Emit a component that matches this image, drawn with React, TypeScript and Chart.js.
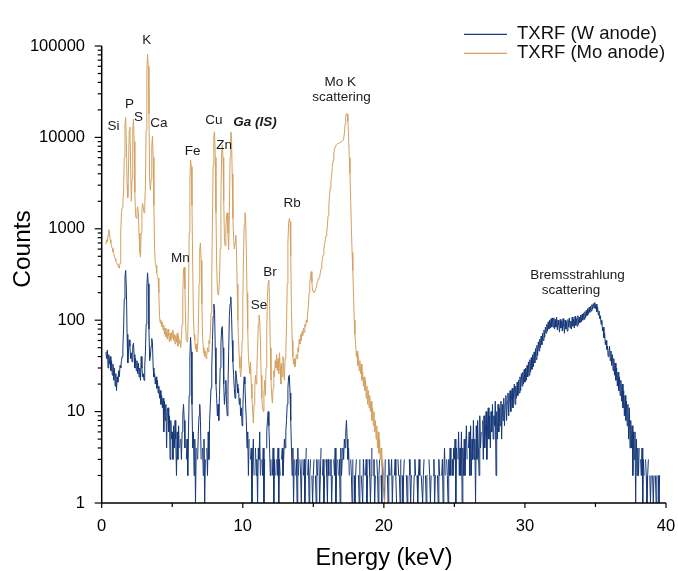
import React, { useEffect, useRef } from "react";
import { Chart, registerables } from "chart.js";

Chart.register(...registerables);

const FONT = "'Liberation Sans', Arial, Helvetica, sans-serif";

// Detector channel calibration (keV per channel)
const channelWidthKeV = 0.05;

// ---- TXRF (W anode) counts, one value per 0.05 keV channel ----
const wCounts00to05 = [
  null, null, null, null, null, null,
  45, 38, 47, 30, 42, 33, 40, 28, 36, 25,
  33, 22, 30, 19, 26, 17, 24, 21, 28, 24,
  32, 30, 36, 40, 50, 80, 170, 300, 350, 220,
  70, 34, 45, 61, 52, 38, 44, 35, 52, 56,
  42, 30, 38, 28, 36, 26, 34, 24, 30, 22,
  40, 30, 24, 26, 22, 32, 45, 90, 230, 330,
  250, 80, 36, 40, 52, 63, 55, 30, 24, 26,
  20, 24, 18, 22, 16, 19, 14, 17, 12, 15,
  11, 14, 6, 13, 8, 12, 4, 10, 11, 6,
  9, 3, 8, 5,
];
const wCounts05to10 = [
  6, 3, 7, 4, 8, 5, 2, 6, 3, 7,
  4, 0, 5, 3, 6, 9, 12, 8, 4, 0,
  3, 5, 2, 6, 15, 40, 65, 45, 12, 4,
  6, 2, 5, 1, 4, 0, 3, 6, 9, 12,
  8, 3, 0, 4, 2, 5, 1, 3, 0, 4,
  2, 6, 3, 8, 12, 18, 30, 60, 110, 150,
  130, 50, 20, 14, 9, 12, 8, 15, 30, 55,
  80, 85, 50, 20, 12, 16, 22, 12, 9, 18,
  45, 110, 150, 180, 120, 60, 35, 25, 18, 14,
  28, 24, 20, 16, 18, 12, 14, 9, 11, 7,
];
const wCounts10to15 = [
  10, 18, 24, 20, 12, 8, 4, 6, 2, 5,
  0, 3, 4, 1, 3, 5, 2, 0, 4, 2,
  3, 1, 4, 3, 6, 2, 0, 3, 2, 4,
  1, 3, 0, 4, 6, 8, 10, 7, 4, 2,
  3, 0, 2, 4, 1, 3, 2, 0, 3, 2,
  4, 1, 3, 2, 0, 3, 4, 2, 3, 5,
  4, 6, 8, 12, 18, 24, 25, 16, 8, 4,
  2, 4, 1, 3, 0, 2, 3, 1, 4, 2,
  0, 3, 2, 1, 3, 0, 2, 3, 1, 2,
  4, 0, 2, 3, 1, 2, 3, 0, 2, 1,
];
const wCounts15to20 = [
  2, 3, 0, 2, 1, 3, 2, 0, 3, 1,
  2, 4, 0, 2, 3, 1, 2, 0, 3, 2,
  1, 3, 2, 0, 2, 3, 1, 2, 0, 3,
  2, 4, 1, 2, 3, 0, 2, 3, 1, 4,
  2, 3, 4, 3, 5, 4, 6, 8, 5, 3,
  4, 2, 0, 3, 2, 1, 3, 0, 2, 1,
  2, 3, 0, 2, 2, 1, 3, 0, 2, 2,
  1, 3, 2, 0, 2, 3, 1, 2, 0, 3,
  2, 1, 2, 4, 0, 2, 3, 1, 2, 0,
  3, 2, 1, 2, 3, 0, 2, 1, 3, 2,
];
const wCounts20to25 = [
  2, 1, 3, 0, 2, 2, 1, 3, 2, 0,
  2, 3, 1, 2, 0, 2, 3, 2, 1, 0,
  3, 2, 2, 1, 3, 0, 2, 1, 2, 3,
  0, 2, 2, 1, 2, 0, 3, 2, 1, 2,
  2, 0, 1, 2, 3, 2, 0, 2, 1, 2,
  3, 2, 0, 2, 2, 1, 2, 3, 0, 2,
  1, 2, 2, 0, 3, 2, 1, 2, 2, 0,
  2, 3, 1, 2, 2, 0, 2, 1, 3, 2,
  2, 0, 2, 3, 1, 2, 4, 2, 0, 3,
  2, 1, 3, 2, 4, 2, 0, 3, 2, 4,
];
const wCounts25to30 = [
  3, 5, 1, 4, 0, 3, 6, 2, 4, 2,
  6, 1, 4, 2, 5, 2, 4, 7, 3, 0,
  4, 6, 2, 7, 2, 5, 3, 8, 3, 5,
  1, 7, 3, 8, 4, 2, 9, 4, 6, 0,
  8, 3, 9, 4, 6, 10, 3, 7, 11, 5,
  9, 4, 10, 6, 12, 5, 9, 7, 13, 2,
  10, 5, 12, 6, 11, 7, 13, 5, 12, 8,
  14, 7, 12, 15, 8, 13, 16, 9, 14, 17,
  10, 15, 18, 11, 16, 20, 12, 19, 14, 21,
  15, 22, 16, 24, 17, 26, 19, 27, 20, 29,
];
const wCounts30to35 = [
  21, 30, 22, 32, 24, 35, 25, 37, 27, 39,
  29, 42, 31, 45, 34, 49, 37, 53, 41, 58,
  46, 62, 50, 67, 54, 72, 60, 78, 65, 84,
  72, 90, 76, 96, 80, 100, 82, 104, 84, 106,
  84, 106, 80, 102, 84, 108, 78, 100, 88, 74,
  102, 82, 98, 76, 104, 86, 72, 100, 80, 96,
  76, 102, 84, 106, 82, 98, 80, 108, 86, 102,
  82, 110, 88, 104, 86, 112, 90, 108, 94, 114,
  96, 116, 100, 120, 102, 124, 106, 128, 112, 134,
  116, 138, 122, 142, 126, 148, 132, 152, 136, 156,
];
const wCounts35to40 = [
  134, 150, 124, 140, 114, 126, 104, 112, 90, 100,
  76, 84, 64, 72, 54, 60, 48, 52, 40, 44,
  52, 36, 46, 32, 42, 28, 38, 25, 34, 22,
  30, 19, 27, 17, 24, 15, 22, 13, 20, 11,
  17, 9, 15, 8, 13, 7, 12, 5, 11, 4,
  8, 4, 7, 2, 6, 3, 6, 1, 5, 2,
  4, 2, 4, 0, 3, 2, 4, 1, 3, 2,
  0, 3, 2, 1, 2, 3, 0, 2, 1, 2,
  0, 2, 1, 2, 0, 2, 1, 2, 0, 2,
  1, 2, 0, 2, 0, null, null, null, null, null,
];

// ---- TXRF (Mo anode) counts, one value per 0.05 keV channel ----
const moCounts00to05 = [
  null, null, null, null, null, null,
  680, 760, 720, 850, 980, 900, 760, 700, 640, 610,
  560, 540, 500, 470, 450, 430, 410, 400, 380, 370,
  420, 900, 1500, 1700, 1900, 2600, 6000, 14000, 16500, 9000,
  3000, 2200, 4500, 12000, 13000, 5000, 2000, 3500, 12000, 15800,
  9000, 2500, 1400, 1300, 1600, 1750, 1500, 900, 560, 490,
  900, 1600, 1900, 1700, 1500, 1800, 3000, 12000, 55000, 81500,
  60000, 18000, 3500, 2650, 3500, 8000, 10300, 6000, 1800, 600,
  420, 400, 330, 300, 290, 200, 110, 93, 100, 85,
  95, 78, 88, 70, 82, 66, 75, 62, 80, 68,
  58, 72, 60, 74,
];
const moCounts05to10 = [
  64, 78, 60, 70, 55, 68, 58, 72, 52, 66,
  56, 60, 50, 64, 90, 200, 360, 380, 220, 90,
  60, 58, 70, 150, 900, 3500, 5650, 4800, 1800, 400,
  110, 70, 60, 48, 55, 45, 52, 80, 250, 600,
  700, 450, 150, 65, 50, 44, 40, 46, 38, 42,
  50, 45, 60, 55, 70, 120, 300, 1200, 5000, 10500,
  11500, 6000, 1500, 400, 220, 190, 200, 280, 600, 2200,
  6500, 8300, 6000, 2000, 800, 650, 1000, 1400, 1500, 900,
  590, 1500, 6000, 11500, 10500, 4000, 1300, 800, 600, 700,
  850, 600, 250, 100, 60, 40, 30, 24, 30, 60,
];
const moCounts10to15 = [
  150, 500, 1100, 1500, 1300, 600, 200, 80, 40, 31,
  26, 35, 20, 14, 10, 7.5, 12, 18, 25, 20,
  30, 50, 90, 114, 100, 60, 25, 14, 11, 10,
  16, 22, 15, 30, 80, 180, 260, 275, 150, 50,
  22, 15, 12.4, 18, 28, 24, 36, 30, 42, 28,
  38, 26, 44, 32, 20, 34, 24, 40, 30, 22,
  38, 45, 80, 250, 700, 1150, 1300, 1200, 500, 130,
  60, 40, 33, 38, 31, 36, 42, 38, 50, 45,
  62, 55, 70, 60, 75, 68, 82, 74, 90, 84,
  100, 95, 120, 140, 200, 260, 300, 340, 260, 210,
];
const moCounts15to20 = [
  210, 200, 200, 215, 230, 250, 265, 280, 290, 300,
  330, 370, 420, 470, 520, 600, 680, 760, 840, 900,
  1100, 1400, 1800, 2300, 2800, 3300, 3900, 4700, 5600, 6600,
  7400, 7900, 8200, 8400, 8500, 8600, 8650, 8700, 8800, 8900,
  9000, 9200, 9300, 9600, 11000, 14000, 17000, 18300, 18000, 15000,
  10000, 6000, 4000, 2000, 1000, 550, 350, 180, 100, 70,
  55, 40, 46, 32, 40, 28, 36, 26, 33, 22,
  27, 19, 24, 17, 22, 14, 19, 12, 17, 11,
  15, 10, 13, 8, 11, 7, 10, 6, 8, 5,
  7, 4, 6, 3.5, 5, 3, 4, 2.5, 3, 2,
  1.5, 1, 0,
];

const wSegments = [
  { startKeV: 0, counts: wCounts00to05 },
  { startKeV: 5, counts: wCounts05to10 },
  { startKeV: 10, counts: wCounts10to15 },
  { startKeV: 15, counts: wCounts15to20 },
  { startKeV: 20, counts: wCounts20to25 },
  { startKeV: 25, counts: wCounts25to30 },
  { startKeV: 30, counts: wCounts30to35 },
  { startKeV: 35, counts: wCounts35to40 },
];
const moSegments = [
  { startKeV: 0, counts: moCounts00to05 },
  { startKeV: 5, counts: moCounts05to10 },
  { startKeV: 10, counts: moCounts10to15 },
  { startKeV: 15, counts: moCounts15to20 },
];

const seriesLabels = ["TXRF (W anode)", "TXRF (Mo anode)"];
const seriesColors = ["#173878", "#d4a160"];

const xMajorTicks = [0, 10, 20, 30, 40];
const xMinorTicks = [5, 15, 25, 35];
const yMajorTicks = [1, 10, 100, 1000, 10000, 100000];
const yMinorMultipliers = [2, 3, 4, 5, 6, 7, 8, 9];

// peak labels, anchored in data units (keV, counts)
const peakLabels = [
  { text: "K", e: 3.19, c: 116000 },
  { text: "P", e: 1.97, c: 23200 },
  { text: "Si", e: 0.84, c: 13100 },
  { text: "S", e: 2.61, c: 16400 },
  { text: "Ca", e: 4.06, c: 14400 },
  { text: "Fe", e: 6.44, c: 7100 },
  { text: "Cu", e: 7.96, c: 15200 },
  { text: "Zn", e: 8.67, c: 8260 },
  { text: "Ga (IS)", e: 10.86, c: 14500, bold: true },
  { text: "Mn", e: 5.57, c: 480 },
  { text: "Rb", e: 13.49, c: 1880 },
  { text: "Br", e: 11.93, c: 331 },
  { text: "Se", e: 11.15, c: 147 },
  { text: "Mo K", e: 16.91, c: 39700 },
  { text: "scattering", e: 17.0, c: 27200 },
  { text: "Bremsstrahlung", e: 33.73, c: 313 },
  { text: "scattering", e: 33.26, c: 210 },
];

function toPoints(segments: { startKeV: number; counts: (number | null)[] }[]) {
  const pts: { x: number; y: number | null }[] = [];
  segments.forEach((seg) => {
    seg.counts.forEach((c, i) => {
      const e = Math.round((seg.startKeV + i * channelWidthKeV) * 1000) / 1000;
      pts.push({ x: e, y: c });
    });
  });
  return pts;
}

const overlayPlugin = {
  id: "overlay",
  afterDraw(chart: any) {
    const { ctx, chartArea: a, scales } = chart;
    const x = scales.x;
    const y = scales.y;
    ctx.save();
    ctx.strokeStyle = "#000";
    ctx.fillStyle = "#000";
    // axis lines
    ctx.lineWidth = 1.5;
    ctx.beginPath();
    ctx.moveTo(a.left, a.top);
    ctx.lineTo(a.left, a.bottom);
    ctx.lineTo(a.right, a.bottom);
    ctx.stroke();
    // y ticks
    ctx.lineWidth = 1.2;
    yMajorTicks.forEach((v) => {
      const py = y.getPixelForValue(v);
      ctx.beginPath();
      ctx.moveTo(a.left - 7, py);
      ctx.lineTo(a.left, py);
      ctx.stroke();
      if (v < 100000) {
        yMinorMultipliers.forEach((m) => {
          const pm = y.getPixelForValue(v * m);
          ctx.beginPath();
          ctx.moveTo(a.left - 4, pm);
          ctx.lineTo(a.left, pm);
          ctx.stroke();
        });
      }
    });
    // x ticks
    xMajorTicks.forEach((v) => {
      const px = x.getPixelForValue(v);
      ctx.beginPath();
      ctx.moveTo(px, a.bottom);
      ctx.lineTo(px, a.bottom + 5);
      ctx.stroke();
    });
    xMinorTicks.forEach((v) => {
      const px = x.getPixelForValue(v);
      ctx.beginPath();
      ctx.moveTo(px, a.bottom);
      ctx.lineTo(px, a.bottom + 4);
      ctx.stroke();
    });
    // axis titles
    ctx.font = `23.5px ${FONT}`;
    ctx.textAlign = "center";
    ctx.textBaseline = "alphabetic";
    ctx.fillText("Energy (keV)", 384, 565);
    ctx.save();
    ctx.translate(30, 249);
    ctx.rotate(-Math.PI / 2);
    ctx.font = `24.5px ${FONT}`;
    ctx.fillText("Counts", 0, 0);
    ctx.restore();
    // legend
    ctx.font = `18.5px ${FONT}`;
    ctx.textAlign = "left";
    ctx.textBaseline = "middle";
    seriesLabels.forEach((lab, i) => {
      const ly = 34.3 + i * 19;
      ctx.strokeStyle = seriesColors[i];
      ctx.lineWidth = 1.3;
      ctx.beginPath();
      ctx.moveTo(464, ly);
      ctx.lineTo(507, ly);
      ctx.stroke();
      ctx.fillStyle = "#111";
      ctx.fillText(lab, 517, ly);
    });
    // peak labels
    ctx.textAlign = "center";
    ctx.textBaseline = "middle";
    ctx.fillStyle = "#1a1a1a";
    peakLabels.forEach((p) => {
      ctx.font = p.bold ? `italic bold 13.5px ${FONT}` : `13.5px ${FONT}`;
      ctx.fillText(p.text, x.getPixelForValue(p.e), y.getPixelForValue(p.c));
    });
    ctx.restore();
  },
};

export default function App() {
  const ref = useRef<HTMLCanvasElement>(null);
  useEffect(() => {
    if (!ref.current) return;
    const chart = new Chart(ref.current, {
      type: "line",
      data: {
        datasets: [
          {
            label: seriesLabels[0],
            data: toPoints(wSegments) as any,
            borderColor: seriesColors[0],
            borderWidth: 1,
            pointRadius: 0,
            tension: 0,
            order: 1,
          },
          {
            label: seriesLabels[1],
            data: toPoints(moSegments) as any,
            borderColor: seriesColors[1],
            borderWidth: 1,
            pointRadius: 0,
            tension: 0,
            order: 0,
          },
        ],
      },
      options: {
        animation: false,
        responsive: false,
        events: [],
        layout: { padding: { left: 0, right: 12, top: 46, bottom: 0 } },
        plugins: { legend: { display: false }, tooltip: { enabled: false } },
        scales: {
          x: {
            type: "linear",
            min: 0,
            max: 40,
            afterFit: (s: any) => {
              s.height = 68;
              s.paddingLeft = 0;
              s.paddingRight = 0;
            },
            grid: { display: false, drawTicks: false },
            border: { display: false },
            ticks: {
              stepSize: 10,
              padding: 14,
              color: "#000",
              font: { family: FONT, size: 16.5 },
              maxRotation: 0,
              autoSkip: false,
            },
          },
          y: {
            type: "logarithmic",
            min: 1,
            max: 100000,
            afterFit: (s: any) => {
              s.width = 101.7;
              s.paddingTop = 0;
              s.paddingBottom = 0;
            },
            afterBuildTicks: (s: any) => {
              s.ticks = yMajorTicks.map((v) => ({ value: v }));
            },
            grid: { display: false, drawTicks: false },
            border: { display: false },
            ticks: {
              padding: 16.7,
              color: "#000",
              font: { family: FONT, size: 16.5 },
              autoSkip: false,
              callback: (v: any) => String(v),
            },
          },
        },
      },
      plugins: [overlayPlugin],
    });
    return () => chart.destroy();
  }, []);
  return (
    <div style={{ position: "absolute", left: 0, top: 0, width: 678, height: 571, background: "#fff" }}>
      <canvas ref={ref} width={678} height={571} style={{ display: "block", width: 678, height: 571 }} />
    </div>
  );
}
